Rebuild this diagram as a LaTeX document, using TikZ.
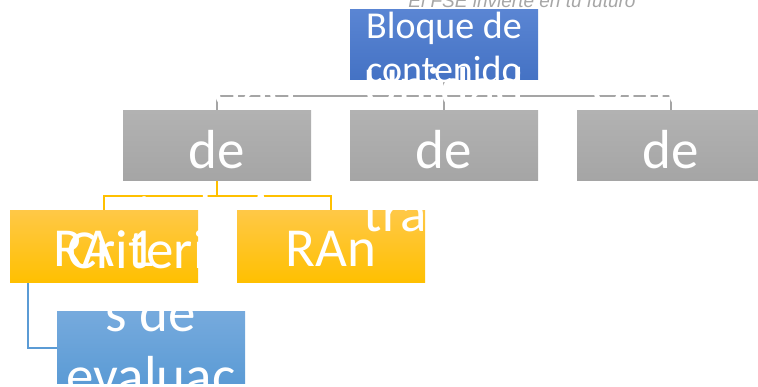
\documentclass[tikz,border=0pt]{standalone}
\usepackage{fontspec}
\setmainfont{Carlito}
\newfontfamily\headfont{Liberation Sans}
\usetikzlibrary{positioning,backgrounds}
\definecolor{topblueA}{HTML}{5A85D3}
\definecolor{topblueB}{HTML}{4472C4}
\definecolor{greyA}{HTML}{B2B2B2}
\definecolor{greyB}{HTML}{A5A5A5}
\definecolor{yellowA}{HTML}{FFC846}
\definecolor{yellowB}{HTML}{FFC000}
\definecolor{critA}{HTML}{76AADD}
\definecolor{critB}{HTML}{5B9BD5}
\definecolor{headgrey}{HTML}{A6A6A6}
\begin{document}
\begin{tikzpicture}[x=1pt,y=-1pt]
\tikzstyle{every node}+=[inner sep=0pt]
\tikzstyle{box}=[rectangle,minimum width=188pt,minimum height=71pt]
\tikzstyle{topbox}=[box,minimum height=70pt,top color=topblueA,bottom color=topblueB]
\tikzstyle{greybox}=[box,minimum height=70pt,top color=greyA,bottom color=greyB]
\tikzstyle{rabox}=[box,minimum height=72pt,top color=yellowA,bottom color=yellowB]
\tikzstyle{critbox}=[box,minimum height=72pt,top color=critA,bottom color=critB]
\tikzstyle{bigtext}=[white,align=center,font=\fontsize{55}{63}\selectfont]
\tikzstyle{toptext}=[white,align=center,font=\fontsize{38}{44}\selectfont]
\tikzstyle{headtext}=[headgrey,anchor=base,font=\headfont\itshape\fontsize{19}{22}\selectfont]
\tikzstyle{greylink}=[greyB,line width=1.6pt]
\tikzstyle{yellowlink}=[yellowB,line width=1.6pt]
\tikzstyle{bluelink}=[critB,line width=1.6pt]
\useasboundingbox (0,0) rectangle (758,387);
\node [headtext] (fse) at (522,8) {El FSE invierte en tu futuro};
\node [topbox] (topb) at (444,45) {};
\node [toptext,yshift=-2pt] (topt) at (topb) {Bloque de\\contenido};
\node [greybox] (g1b) at (217,146) {};
\node [bigtext,yshift=-8pt] (g1t) at (g1b) {Unidad\\de\\trabajo};
\node [rabox] (ra1b) at (104,247) {};
\node [bigtext,yshift=-2pt] (ra1t) at (ra1b) {RA 1};
\node [rabox] (ranb) at (331,247) {};
\node [bigtext,yshift=-2pt] (rant) at (ranb) {RAn};
\node [critbox] (critb) at (151,348) {};
\node [bigtext,yshift=4pt] (critt) at (critb) {Criterio\\s de\\evaluac\\ión};
\node [greybox] (g2b) at (444,146) {};
\node [bigtext,yshift=-8pt] (g2t) at (g2b) {Unidad\\de\\trabajo};
\node [greybox] (g3b) at (671,146) {};
\node [bigtext,yshift=-8pt] (g3t) at (g3b) {Unidad\\de\\trabajo};
\begin{scope}[on background layer]
\draw [greylink] (topb.south) -- ++(0,16) coordinate (tj);
\draw [greylink] (g1b.north) |- (tj) -| (g3b.north);
\draw [greylink] (tj) -- (g2b.north);
\draw [yellowlink] (g1b.south) -- ++(0,15) coordinate (yj);
\draw [yellowlink] (ra1b.north) |- (yj) -| (ranb.north);
\draw [bluelink] ([xshift=-76pt]ra1b.south) |- (critb.west);
\end{scope}
\end{tikzpicture}
\end{document}
